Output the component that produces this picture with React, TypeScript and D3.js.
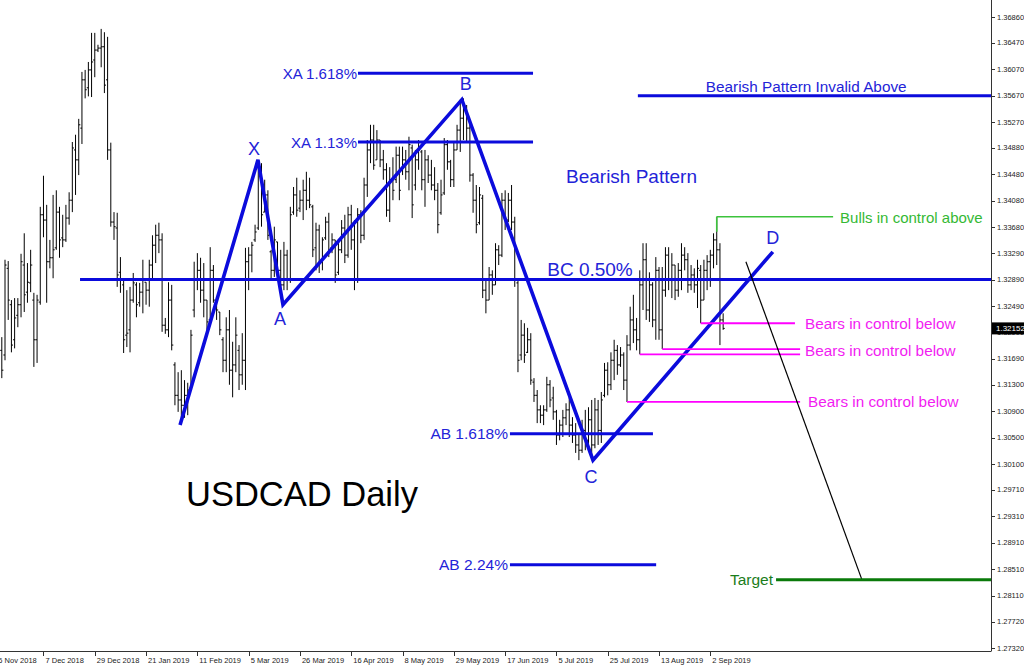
import React from "react";
import * as d3 from "d3";

// ---- OHLC data (USDCAD daily, one entry per bar) ----
const opens = [
  1.3182, 1.3175, 1.3306, 1.3251, 1.3198, 1.3235, 1.3251, 1.3311, 1.3270, 1.3284,
  1.3258, 1.3198, 1.3255, 1.3387, 1.3379, 1.3316, 1.3322, 1.3337, 1.3391, 1.3352,
  1.3349, 1.3382, 1.3409, 1.3485, 1.3470, 1.3518, 1.3591, 1.3579, 1.3606, 1.3621,
  1.3636, 1.3639, 1.3641, 1.3591, 1.3485, 1.3376, 1.3367, 1.3300, 1.3281, 1.3205,
  1.3213, 1.3258, 1.3281, 1.3254, 1.3270, 1.3285, 1.3273, 1.3311, 1.3341, 1.3356,
  1.3349, 1.3220, 1.3213, 1.3258, 1.3160, 1.3114, 1.3107, 1.3099, 1.3114, 1.3125,
  1.3243, 1.3288, 1.3303, 1.3273, 1.3258, 1.3228, 1.3303, 1.3254, 1.3240, 1.3198,
  1.3167, 1.3213, 1.3152, 1.3160, 1.3182, 1.3145, 1.3167, 1.3316, 1.3326, 1.3349,
  1.3367, 1.3455, 1.3391, 1.3417, 1.3331, 1.3303, 1.3346, 1.3303, 1.3281, 1.3326,
  1.3288, 1.3391, 1.3417, 1.3397, 1.3409, 1.3424, 1.3409, 1.3399, 1.3337, 1.3364,
  1.3316, 1.3352, 1.3376, 1.3337, 1.3349, 1.3300, 1.3334, 1.3367, 1.3326, 1.3387,
  1.3349, 1.3288, 1.3387, 1.3356, 1.3432, 1.3485, 1.3500, 1.3470, 1.3500, 1.3470,
  1.3455, 1.3394, 1.3440, 1.3440, 1.3477, 1.3455, 1.3470, 1.3452, 1.3488, 1.3432,
  1.3470, 1.3482, 1.3440, 1.3470, 1.3447, 1.3432, 1.3424, 1.3390, 1.3420, 1.3493,
  1.3467, 1.3440, 1.3485, 1.3515, 1.3533, 1.3548, 1.3518, 1.3447, 1.3409, 1.3375,
  1.3412, 1.3273, 1.3258, 1.3296, 1.3281, 1.3334, 1.3326, 1.3409, 1.3379, 1.3409,
  1.3376, 1.3284, 1.3175, 1.3205, 1.3179, 1.3198, 1.3134, 1.3114, 1.3092, 1.3084,
  1.3092, 1.3130, 1.3110, 1.3089, 1.3054, 1.3069, 1.3080, 1.3092, 1.3069, 1.3054,
  1.3039, 1.3031, 1.3061, 1.3046, 1.3077, 1.3039, 1.3092, 1.3061, 1.3114, 1.3152,
  1.3130, 1.3167, 1.3182, 1.3160, 1.3175, 1.3137, 1.3190, 1.3228, 1.3213, 1.3198,
  1.3281, 1.3319, 1.3243, 1.3281, 1.3228, 1.3303, 1.3213, 1.3273, 1.3326, 1.3288,
  1.3311, 1.3273, 1.3303, 1.3326, 1.3319, 1.3281, 1.3296, 1.3281, 1.3303, 1.3258,
  1.3303, 1.3316, 1.3326, 1.3349, 1.3334, 1.3228,
];
const highs = [
  1.3202, 1.3319, 1.3317, 1.3258, 1.3261, 1.3261, 1.3328, 1.3359, 1.3314, 1.3334,
  1.3269, 1.3266, 1.3399, 1.3446, 1.3402, 1.3349, 1.3417, 1.3424, 1.3399, 1.3387,
  1.3402, 1.3421, 1.3497, 1.3508, 1.3532, 1.3603, 1.3606, 1.3618, 1.3662, 1.3662,
  1.3644, 1.3668, 1.3663, 1.3656, 1.3496, 1.3391, 1.3390, 1.3323, 1.3288, 1.3273,
  1.3278, 1.3299, 1.3285, 1.3284, 1.3319, 1.3285, 1.3319, 1.3356, 1.3372, 1.3375,
  1.3359, 1.3231, 1.3285, 1.3281, 1.3164, 1.3149, 1.3152, 1.3137, 1.3133, 1.3213,
  1.3316, 1.3329, 1.3322, 1.3314, 1.3258, 1.3338, 1.3311, 1.3258, 1.3240, 1.3202,
  1.3232, 1.3243, 1.3195, 1.3232, 1.3190, 1.3208, 1.3337, 1.3338, 1.3346, 1.3372,
  1.3467, 1.3465, 1.3440, 1.3424, 1.3334, 1.3369, 1.3346, 1.3334, 1.3346, 1.3334,
  1.3399, 1.3429, 1.3443, 1.3424, 1.3440, 1.3452, 1.3443, 1.3402, 1.3375, 1.3372,
  1.3353, 1.3384, 1.3390, 1.3359, 1.3349, 1.3346, 1.3379, 1.3387, 1.3399, 1.3402,
  1.3379, 1.3397, 1.3394, 1.3443, 1.3500, 1.3523, 1.3523, 1.3515, 1.3500, 1.3485,
  1.3465, 1.3459, 1.3474, 1.3490, 1.3490, 1.3490, 1.3485, 1.3505, 1.3493, 1.3485,
  1.3500, 1.3485, 1.3485, 1.3477, 1.3470, 1.3459, 1.3435, 1.3440, 1.3503, 1.3500,
  1.3470, 1.3496, 1.3523, 1.3561, 1.3563, 1.3553, 1.3530, 1.3450, 1.3432, 1.3429,
  1.3417, 1.3288, 1.3308, 1.3303, 1.3344, 1.3341, 1.3420, 1.3424, 1.3420, 1.3432,
  1.3384, 1.3288, 1.3228, 1.3223, 1.3216, 1.3208, 1.3140, 1.3122, 1.3099, 1.3099,
  1.3142, 1.3137, 1.3127, 1.3092, 1.3077, 1.3092, 1.3102, 1.3111, 1.3081, 1.3072,
  1.3057, 1.3077, 1.3092, 1.3096, 1.3107, 1.3110, 1.3107, 1.3119, 1.3163, 1.3164,
  1.3179, 1.3198, 1.3190, 1.3187, 1.3179, 1.3205, 1.3248, 1.3266, 1.3231, 1.3303,
  1.3344, 1.3344, 1.3300, 1.3285, 1.3323, 1.3308, 1.3308, 1.3338, 1.3338, 1.3329,
  1.3311, 1.3314, 1.3344, 1.3338, 1.3329, 1.3311, 1.3306, 1.3319, 1.3311, 1.3319,
  1.3326, 1.3334, 1.3359, 1.3384, 1.3344, 1.3238,
];
const lows = [
  1.3140, 1.3167, 1.3228, 1.3179, 1.3185, 1.3217, 1.3232, 1.3240, 1.3254, 1.3270,
  1.3157, 1.3163, 1.3251, 1.3353, 1.3254, 1.3306, 1.3291, 1.3334, 1.3322, 1.3338,
  1.3346, 1.3372, 1.3391, 1.3417, 1.3447, 1.3494, 1.3563, 1.3566, 1.3565, 1.3595,
  1.3633, 1.3610, 1.3571, 1.3470, 1.3369, 1.3349, 1.3278, 1.3269, 1.3178, 1.3187,
  1.3179, 1.3254, 1.3232, 1.3248, 1.3238, 1.3251, 1.3248, 1.3291, 1.3314, 1.3329,
  1.3210, 1.3207, 1.3202, 1.3182, 1.3099, 1.3089, 1.3074, 1.3080, 1.3084, 1.3122,
  1.3232, 1.3273, 1.3254, 1.3232, 1.3213, 1.3228, 1.3254, 1.3228, 1.3205, 1.3149,
  1.3149, 1.3130, 1.3111, 1.3149, 1.3122, 1.3130, 1.3122, 1.3273, 1.3300, 1.3346,
  1.3364, 1.3369, 1.3391, 1.3349, 1.3288, 1.3293, 1.3291, 1.3270, 1.3273, 1.3273,
  1.3284, 1.3387, 1.3384, 1.3391, 1.3379, 1.3394, 1.3397, 1.3323, 1.3303, 1.3299,
  1.3303, 1.3349, 1.3323, 1.3329, 1.3284, 1.3296, 1.3329, 1.3314, 1.3322, 1.3334,
  1.3273, 1.3284, 1.3344, 1.3349, 1.3414, 1.3465, 1.3455, 1.3470, 1.3459, 1.3440,
  1.3384, 1.3376, 1.3409, 1.3435, 1.3409, 1.3447, 1.3440, 1.3424, 1.3382, 1.3424,
  1.3455, 1.3424, 1.3399, 1.3435, 1.3424, 1.3409, 1.3359, 1.3387, 1.3417, 1.3455,
  1.3429, 1.3429, 1.3485, 1.3482, 1.3500, 1.3497, 1.3437, 1.3390, 1.3359, 1.3372,
  1.3261, 1.3238, 1.3258, 1.3266, 1.3281, 1.3311, 1.3323, 1.3364, 1.3376, 1.3364,
  1.3278, 1.3149, 1.3167, 1.3163, 1.3178, 1.3130, 1.3104, 1.3072, 1.3072, 1.3069,
  1.3089, 1.3096, 1.3077, 1.3039, 1.3046, 1.3051, 1.3069, 1.3051, 1.3042, 1.3027,
  1.3016, 1.3027, 1.3031, 1.3036, 1.3016, 1.3034, 1.3039, 1.3042, 1.3111, 1.3114,
  1.3122, 1.3137, 1.3145, 1.3157, 1.3122, 1.3104, 1.3182, 1.3193, 1.3182, 1.3176,
  1.3243, 1.3228, 1.3225, 1.3217, 1.3198, 1.3198, 1.3184, 1.3263, 1.3273, 1.3261,
  1.3258, 1.3263, 1.3273, 1.3303, 1.3269, 1.3273, 1.3269, 1.3246, 1.3223, 1.3258,
  1.3273, 1.3278, 1.3306, 1.3311, 1.3190, 1.3213,
];
const closes = [
  1.3152, 1.3311, 1.3258, 1.3190, 1.3231, 1.3251, 1.3316, 1.3266, 1.3285, 1.3311,
  1.3198, 1.3258, 1.3387, 1.3379, 1.3316, 1.3322, 1.3334, 1.3391, 1.3349, 1.3349,
  1.3382, 1.3409, 1.3488, 1.3470, 1.3523, 1.3591, 1.3576, 1.3606, 1.3618, 1.3636,
  1.3639, 1.3641, 1.3583, 1.3485, 1.3376, 1.3369, 1.3296, 1.3288, 1.3198, 1.3208,
  1.3258, 1.3284, 1.3251, 1.3270, 1.3288, 1.3273, 1.3311, 1.3341, 1.3356, 1.3349,
  1.3220, 1.3213, 1.3258, 1.3190, 1.3114, 1.3107, 1.3099, 1.3114, 1.3122, 1.3205,
  1.3288, 1.3303, 1.3273, 1.3258, 1.3225, 1.3303, 1.3258, 1.3243, 1.3213, 1.3167,
  1.3213, 1.3152, 1.3160, 1.3205, 1.3145, 1.3167, 1.3316, 1.3326, 1.3341, 1.3361,
  1.3455, 1.3387, 1.3417, 1.3356, 1.3303, 1.3349, 1.3303, 1.3281, 1.3326, 1.3288,
  1.3387, 1.3417, 1.3394, 1.3409, 1.3424, 1.3409, 1.3402, 1.3334, 1.3364, 1.3316,
  1.3349, 1.3376, 1.3334, 1.3349, 1.3296, 1.3334, 1.3367, 1.3326, 1.3387, 1.3349,
  1.3288, 1.3387, 1.3356, 1.3432, 1.3485, 1.3500, 1.3462, 1.3500, 1.3470, 1.3455,
  1.3394, 1.3440, 1.3424, 1.3477, 1.3424, 1.3470, 1.3452, 1.3493, 1.3402, 1.3470,
  1.3485, 1.3440, 1.3470, 1.3447, 1.3432, 1.3424, 1.3372, 1.3417, 1.3493, 1.3467,
  1.3440, 1.3485, 1.3515, 1.3533, 1.3548, 1.3518, 1.3447, 1.3409, 1.3372, 1.3417,
  1.3273, 1.3258, 1.3296, 1.3281, 1.3334, 1.3326, 1.3409, 1.3379, 1.3409, 1.3376,
  1.3288, 1.3167, 1.3205, 1.3175, 1.3198, 1.3137, 1.3114, 1.3092, 1.3084, 1.3092,
  1.3130, 1.3107, 1.3089, 1.3054, 1.3069, 1.3080, 1.3092, 1.3069, 1.3054, 1.3039,
  1.3031, 1.3061, 1.3046, 1.3077, 1.3039, 1.3092, 1.3061, 1.3107, 1.3152, 1.3130,
  1.3167, 1.3182, 1.3160, 1.3175, 1.3137, 1.3190, 1.3228, 1.3213, 1.3198, 1.3281,
  1.3319, 1.3243, 1.3281, 1.3228, 1.3303, 1.3213, 1.3273, 1.3326, 1.3288, 1.3311,
  1.3273, 1.3303, 1.3326, 1.3319, 1.3281, 1.3296, 1.3281, 1.3306, 1.3258, 1.3303,
  1.3316, 1.3326, 1.3349, 1.3334, 1.3228, 1.32152,
];

// ---- axis labels ----
const dateLabels = [
  "16 Nov 2018", "7 Dec 2018", "29 Dec 2018", "21 Jan 2019", "11 Feb 2019", "5 Mar 2019",
  "26 Mar 2019", "16 Apr 2019", "8 May 2019", "29 May 2019", "17 Jun 2019", "5 Jul 2019",
  "25 Jul 2019", "13 Aug 2019", "2 Sep 2019",
];
const dateTickBars = [-3, 13, 29, 45, 61, 77, 93, 109, 125, 141, 157, 173, 189, 205, 221];
const priceTicks = [
  1.3686, 1.3647, 1.3607, 1.3567, 1.3527, 1.3488, 1.3448, 1.3408, 1.3368, 1.3329,
  1.3289, 1.3249, 1.3209, 1.3169, 1.313, 1.309, 1.305, 1.301, 1.2971, 1.2931,
  1.2891, 1.2851, 1.2811, 1.2772, 1.2732,
];
const lastPrice = 1.32152;

// ---- harmonic pattern (bar position, price) ----
const patternNames = ["", "X", "A", "B", "C", "D"];
const patternBars = [55.6, 79.9, 87.7, 143.5, 184.4, 240.5];
const patternPrices = [1.3069, 1.347, 1.3251, 1.3561, 1.3016, 1.3331];

// ---- blue levels ----
const levelNames = ["XA 1.618%", "XA 1.13%", "Bearish Pattern Invalid Above", "BC 0.50%", "AB 1.618%", "AB 2.24%"];
const levelPrices = [1.3601, 1.3497, 1.3567, 1.3289, 1.3056, 1.2858];
const levelFrom = [111.1, 111.1, 198.4, 24.4, 158.5, 158.5];
const levelTo = [165.7, 165.7, 309, 309, 203.1, 204.1];

// ---- bears (magenta) levels start at the low of a bar ----
const bearBars = [218, 199, 206, 195];
const bearTo = [247.4, 249, 249, 249];
const bearLabelRows = [0, 1, 3];

// ---- bulls & target ----
const bullBar = 223;
const bullTo = 259.3;
const targetPrice = 1.2835;
const targetFrom = 241.5;
const projectionBars = [232.1, 268.3];
const projectionPrices = [1.3316, 1.2835];

const BLUE = "#0b0bdc";
const BLUE_TXT = "#2323d8";
const MAGENTA = "#ff00ff";
const MAGENTA_TXT = "#f21cf2";
const FONT = "'Liberation Sans', Arial, sans-serif";

export default function App() {
  const W = 1024;
  const H = 667;
  const right = 991;
  const bottom = 651;
  const x = d3.scaleLinear().domain([0, 225]).range([1.8, 1.8 + 225 * 3.206]);
  const y = d3.scaleLinear().domain([1.2732, 1.3686]).range([648, 17]);

  const line = d3
    .line<number>()
    .x((_, i) => x(patternBars[i]))
    .y((d) => y(d));

  const bars = closes.map((c, i) => ({ o: opens[i], h: highs[i], l: lows[i], c, i }));

  return (
    <svg
      width={W}
      height={H}
      style={{ position: "fixed", left: 0, top: 0, background: "#fff" }}
      fontFamily={FONT}
    >
      <rect x={0} y={0} width={W} height={H} fill="#fff" />
      {/* OHLC bars */}
      <g stroke="#000" strokeWidth={1}>
        {bars.map((b) => {
          const cx = x(b.i);
          return (
            <g key={b.i}>
              <line x1={cx} x2={cx} y1={y(b.h)} y2={y(b.l)} />
              <line x1={cx - 1.6} x2={cx} y1={y(b.o)} y2={y(b.o)} />
              <line x1={cx} x2={cx + 1.6} y1={y(b.c)} y2={y(b.c)} />
            </g>
          );
        })}
      </g>

      {/* blue levels */}
      {levelPrices.map((p, i) => (
        <line
          key={"lv" + i}
          x1={x(levelFrom[i])}
          x2={Math.min(x(levelTo[i]), right)}
          y1={y(p)}
          y2={y(p)}
          stroke={BLUE}
          strokeWidth={3}
        />
      ))}
      {/* level labels */}
      <g fill={BLUE_TXT} fontSize={15}>
        <text x={x(levelFrom[0]) - 1} y={y(levelPrices[0])} textAnchor="end" dominantBaseline="central">
          {levelNames[0]}
        </text>
        <text x={x(levelFrom[1]) - 1} y={y(levelPrices[1])} textAnchor="end" dominantBaseline="central">
          {levelNames[1]}
        </text>
        <text x={x(levelFrom[2]) + 68} y={y(levelPrices[2]) - 9} dominantBaseline="central" fontSize={15.3}>
          {levelNames[2]}
        </text>
        <text x={590} y={y(levelPrices[3]) - 10} textAnchor="middle" dominantBaseline="central" fontSize={19}>
          {levelNames[3]}
        </text>
        <text x={x(levelFrom[4]) - 2} y={y(levelPrices[4])} textAnchor="end" dominantBaseline="central" fontSize={15.5}>
          {levelNames[4]}
        </text>
        <text x={x(levelFrom[5]) - 2} y={y(levelPrices[5])} textAnchor="end" dominantBaseline="central" fontSize={15.5}>
          {levelNames[5]}
        </text>
        <text x={566} y={176} dominantBaseline="central" fontSize={19}>
          Bearish Pattern
        </text>
      </g>

      {/* pattern */}
      <path d={line(patternPrices) || ""} fill="none" stroke={BLUE} strokeWidth={3.6} strokeLinejoin="miter" />
      <g fill={BLUE_TXT} fontSize={18} textAnchor="middle" dominantBaseline="central">
        <text x={x(patternBars[1]) - 4} y={y(patternPrices[1]) - 11}>{patternNames[1]}</text>
        <text x={x(patternBars[2]) - 3} y={y(patternPrices[2]) + 14}>{patternNames[2]}</text>
        <text x={x(patternBars[3]) + 4} y={y(patternPrices[3]) - 16}>{patternNames[3]}</text>
        <text x={x(patternBars[4]) - 2} y={y(patternPrices[4]) + 17}>{patternNames[4]}</text>
        <text x={x(patternBars[5])} y={y(patternPrices[5]) - 14}>{patternNames[5]}</text>
      </g>

      {/* bulls */}
      <g stroke="#3cc33c" strokeWidth={1.6} fill="none">
        <line x1={x(bullBar)} x2={x(bullBar)} y1={y(highs[bullBar])} y2={y(highs[bullBar]) + 15} />
        <line x1={x(bullBar)} x2={x(bullTo)} y1={y(highs[bullBar])} y2={y(highs[bullBar])} />
      </g>
      <text x={x(bullTo) + 7} y={y(highs[bullBar]) + 1} fill="#34b934" fontSize={15} dominantBaseline="central">
        Bulls in control above
      </text>

      {/* bears */}
      {bearBars.map((b, i) => (
        <line
          key={"br" + i}
          x1={x(b)}
          x2={x(bearTo[i])}
          y1={y(lows[b])}
          y2={y(lows[b])}
          stroke={MAGENTA}
          strokeWidth={1.8}
        />
      ))}
      {bearLabelRows.map((r, k) => (
        <text
          key={"bt" + k}
          x={x(bearTo[r]) + (k === 2 ? 8 : k === 1 ? 5 : 10)}
          y={y(lows[bearBars[r]]) + (k === 1 ? -4 : 0)}
          fill={MAGENTA_TXT}
          fontSize={15.3}
          dominantBaseline="central"
        >
          Bears in control below
        </text>
      ))}

      {/* projection & target */}
      <line
        x1={x(projectionBars[0])}
        x2={x(projectionBars[1])}
        y1={y(projectionPrices[0])}
        y2={y(projectionPrices[1])}
        stroke="#000"
        strokeWidth={1.2}
      />
      <line x1={x(targetFrom)} x2={right} y1={y(targetPrice)} y2={y(targetPrice)} stroke="#0a7a0a" strokeWidth={3} />
      <text
        x={x(targetFrom) - 3}
        y={y(targetPrice)}
        textAnchor="end"
        dominantBaseline="central"
        fill="#1b7d1b"
        fontSize={15.5}
      >
        Target
      </text>

      {/* title */}
      <text x={186} y={494} dominantBaseline="central" fontSize={34.5} fill="#000">
        USDCAD Daily
      </text>

      {/* axes frame */}
      <line x1={right + 0.5} x2={right + 0.5} y1={0} y2={bottom} stroke="#333" strokeWidth={1} />
      <line x1={0} x2={right + 0.5} y1={bottom + 0.5} y2={bottom + 0.5} stroke="#333" strokeWidth={1} />

      {/* price axis */}
      <g fontSize={7.5} fill="#222">
        {priceTicks.map((p, i) => (
          <g key={"pt" + i}>
            <line x1={right} x2={right + 4} y1={Math.round(y(p)) + 0.5} y2={Math.round(y(p)) + 0.5} stroke="#333" />
            <text x={right + 6} y={y(p)} dominantBaseline="central">
              {p.toFixed(5)}
            </text>
          </g>
        ))}
      </g>
      <rect x={right + 1} y={y(lastPrice) - 6} width={W - right} height={12} fill="#000" />
      <text x={right + 5} y={y(lastPrice)} dominantBaseline="central" fontSize={8} fill="#fff">
        {lastPrice.toFixed(5)}
      </text>

      {/* date axis */}
      <g fontSize={7.5} fill="#222">
        {dateTickBars.map((b, i) => (
          <g key={"dt" + i}>
            <line
              x1={Math.round(x(b)) + 0.5}
              x2={Math.round(x(b)) + 0.5}
              y1={bottom}
              y2={bottom + 5}
              stroke="#333"
            />
            <text x={x(b) + 2} y={660} dominantBaseline="central">
              {dateLabels[i]}
            </text>
          </g>
        ))}
      </g>
    </svg>
  );
}
